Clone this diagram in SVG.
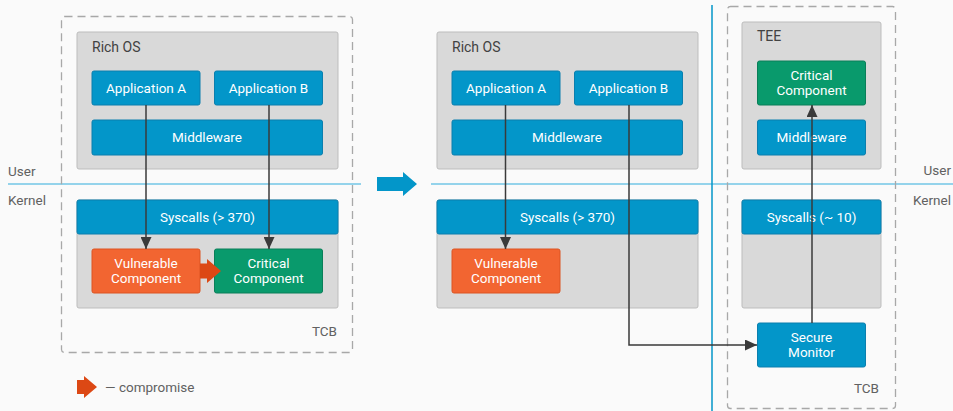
<svg xmlns="http://www.w3.org/2000/svg" width="953" height="411" viewBox="0 0 953 411">
  <style>
    text { font-family: Roboto, "Liberation Sans", sans-serif; }
    .bg { fill: #fafafa; }
    .tcb { fill: none; stroke: #a8a8a8; stroke-width: 1.3; stroke-dasharray: 8 5; }
    .grey { fill: #d9d9d9; stroke: #bdbdbd; stroke-width: 1; }
    .blue { fill: #0396c9; stroke: #0b7fae; stroke-width: 1; }
    .orange { fill: #f26531; stroke: #dc5522; stroke-width: 1; }
    .green { fill: #099a6c; stroke: #0a7f59; stroke-width: 1; }
    .lbl { font-size: 13.5px; fill: #ffffff; text-anchor: middle; }
    .title { font-size: 14px; fill: #424242; }
    .side { font-size: 13.5px; fill: #616161; }
    .sep { stroke: #72c6e6; stroke-width: 1.3; }
    .conn { fill: none; stroke: #3a3a3a; stroke-width: 1.5; }
  </style>
  <defs>
    <marker id="arr" viewBox="0 0 12 11" refX="12" refY="5.5" markerWidth="12" markerHeight="11" markerUnits="userSpaceOnUse" orient="auto">
      <path d="M0,0 L12,5.5 L0,11 Z" fill="#3a3a3a"/>
    </marker>
  </defs>

  <rect class="bg" x="0" y="0" width="953" height="411"/>

  <!-- user / kernel separators -->
  <line class="sep" x1="8" y1="184" x2="361" y2="184"/>
  <line class="sep" x1="431" y1="184" x2="953" y2="184"/>
  <line x1="712" y1="5" x2="712" y2="411" stroke="#0396c9" stroke-width="1.5"/>
  <text class="side" x="8" y="176">User</text>
  <text class="side" x="8" y="205">Kernel</text>
  <text class="side" x="951" y="175" text-anchor="end">User</text>
  <text class="side" x="951" y="205" text-anchor="end">Kernel</text>

  <!-- left: monolithic OS -->
  <g id="left-tcb">
    <rect class="tcb" x="61.5" y="16.5" width="291" height="336" rx="3"/>
    <text class="side" x="337" y="336" text-anchor="end">TCB</text>
  </g>
  <g id="left-richos">
    <rect class="grey" x="77" y="32" width="261" height="137" rx="2"/>
    <text class="title" x="92" y="52">Rich OS</text>
  </g>
  <g id="left-app-a">
    <rect class="blue" x="92" y="71" width="108" height="34" rx="2"/>
    <text class="lbl" x="146" y="92.5">Application A</text>
  </g>
  <g id="left-app-b">
    <rect class="blue" x="214.5" y="71" width="108" height="34" rx="2"/>
    <text class="lbl" x="268.5" y="92.5">Application B</text>
  </g>
  <g id="left-middleware">
    <rect class="blue" x="92" y="120" width="230.5" height="35" rx="2"/>
    <text class="lbl" x="207" y="142">Middleware</text>
  </g>
  <g id="left-kernel">
    <rect class="grey" x="77" y="200" width="261" height="108" rx="2"/>
    <rect class="blue" x="77" y="200" width="261" height="34" rx="2"/>
    <text class="lbl" x="207.5" y="221.5">Syscalls (&gt; 370)</text>
  </g>
  <g id="left-vulnerable">
    <rect class="orange" x="92" y="249" width="108" height="44" rx="2"/>
    <text class="lbl" x="146" y="268">Vulnerable</text>
    <text class="lbl" x="146" y="283">Component</text>
  </g>
  <g id="left-critical">
    <rect class="green" x="214.5" y="249" width="108" height="44" rx="2"/>
    <text class="lbl" x="268.5" y="268">Critical</text>
    <text class="lbl" x="268.5" y="283">Component</text>
  </g>
  <g id="left-compromise">
    <path d="M200,263.5 H207 V259 L221,271 L207,283 V278.5 H200 Z" fill="#dc4814"/>
  </g>

  <!-- transition arrow -->
  <g id="transition">
    <path d="M377,177 H403 V172 L417,184 L403,196 V191 H377 Z" fill="#0396c9"/>
  </g>

  <!-- middle: rich OS after split -->
  <g id="mid-richos">
    <rect class="grey" x="437" y="32" width="261" height="137" rx="2"/>
    <text class="title" x="452" y="52">Rich OS</text>
  </g>
  <g id="mid-app-a">
    <rect class="blue" x="452" y="71" width="108" height="34" rx="2"/>
    <text class="lbl" x="506" y="92.5">Application A</text>
  </g>
  <g id="mid-app-b">
    <rect class="blue" x="574.5" y="71" width="108" height="34" rx="2"/>
    <text class="lbl" x="628.5" y="92.5">Application B</text>
  </g>
  <g id="mid-middleware">
    <rect class="blue" x="452" y="120" width="230.5" height="35" rx="2"/>
    <text class="lbl" x="567" y="142">Middleware</text>
  </g>
  <g id="mid-kernel">
    <rect class="grey" x="437" y="200" width="261" height="108" rx="2"/>
    <rect class="blue" x="437" y="200" width="261" height="34" rx="2"/>
    <text class="lbl" x="567.5" y="221.5">Syscalls (&gt; 370)</text>
  </g>
  <g id="mid-vulnerable">
    <rect class="orange" x="452" y="249" width="108" height="44" rx="2"/>
    <text class="lbl" x="506" y="268">Vulnerable</text>
    <text class="lbl" x="506" y="283">Component</text>
  </g>

  <!-- right: trusted execution environment -->
  <g id="right-tcb">
    <rect class="tcb" x="727.5" y="6.5" width="168" height="402" rx="3"/>
    <text class="side" x="879" y="393" text-anchor="end">TCB</text>
  </g>
  <g id="tee">
    <rect class="grey" x="742" y="22" width="139" height="147" rx="2"/>
    <text class="title" x="757" y="41">TEE</text>
  </g>
  <g id="tee-critical">
    <rect class="green" x="757.5" y="61" width="108" height="44" rx="2"/>
    <text class="lbl" x="811.5" y="80">Critical</text>
    <text class="lbl" x="811.5" y="95">Component</text>
  </g>
  <g id="tee-middleware">
    <rect class="blue" x="757.5" y="120" width="108" height="35" rx="2"/>
    <text class="lbl" x="811.5" y="142">Middleware</text>
  </g>
  <g id="tee-kernel">
    <rect class="grey" x="742" y="200" width="139" height="108" rx="2"/>
    <rect class="blue" x="742" y="200" width="139" height="34" rx="2"/>
    <text class="lbl" x="811.5" y="221.5">Syscalls (~ 10)</text>
  </g>
  <g id="secure-monitor">
    <rect class="blue" x="757.5" y="323" width="108" height="44" rx="2"/>
    <text class="lbl" x="811.5" y="342">Secure</text>
    <text class="lbl" x="811.5" y="357">Monitor</text>
  </g>

  <!-- legend -->
  <g id="legend">
    <path d="M77,380 H84 V376 L97,387 L84,398 V394 H77 Z" fill="#dc4814"/>
    <text class="side" x="105" y="391.5">— compromise</text>
  </g>

  <!-- connectors -->
  <g id="connectors">
    <line class="conn" x1="146" y1="105" x2="146" y2="249" marker-end="url(#arr)"/>
    <line class="conn" x1="269" y1="105" x2="269" y2="249" marker-end="url(#arr)"/>
    <line class="conn" x1="505.5" y1="105" x2="505.5" y2="249" marker-end="url(#arr)"/>
    <path class="conn" d="M629,105 V345 H757" marker-end="url(#arr)"/>
    <line class="conn" x1="812" y1="323" x2="812" y2="105" marker-end="url(#arr)"/>
  </g>
</svg>
